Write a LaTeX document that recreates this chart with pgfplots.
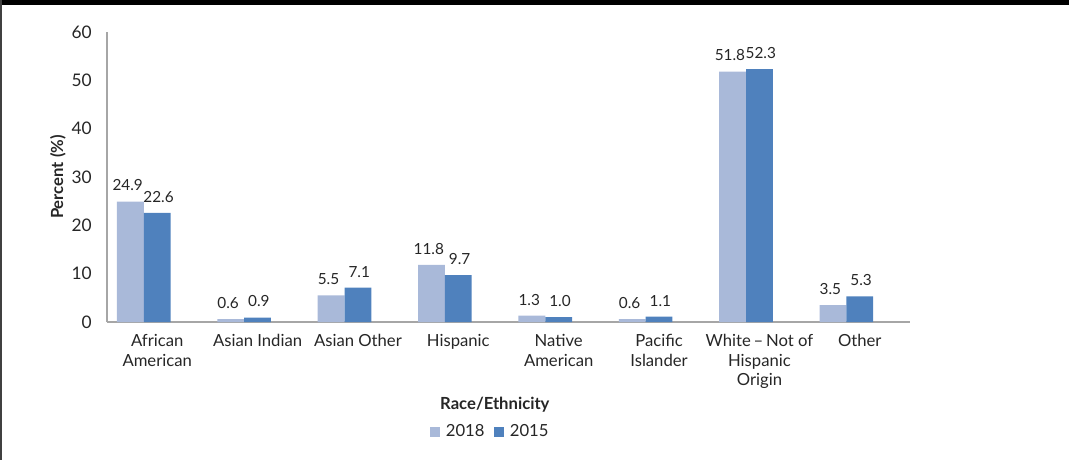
\documentclass[border=0pt]{standalone}
\usepackage{fontspec}
\setmainfont{Lato}
\usepackage{pgfplots}
\pgfplotsset{compat=1.18}
\definecolor{lightbar}{HTML}{A9B9D9}
\definecolor{darkbar}{HTML}{4F81BD}
\definecolor{axisgray}{HTML}{A6A6A6}
\definecolor{txt}{HTML}{262626}
\begin{document}
\begin{tikzpicture}
\useasboundingbox (0,0) rectangle (801.75pt,-345pt);
\fill[black] (0,0) rectangle (801.75pt,-3.5pt);
\draw[black!75, line width=1.4pt] (0.9pt,0) -- (0.9pt,-345pt);
\begin{axis}[
  at={(80.25pt,-241.5pt)}, anchor=south west,
  scale only axis, width=602.25pt, height=217.5pt,
  ybar, bar width=0.267,
  xmin=-0.5, xmax=7.5, ymin=0, ymax=60,
  ytick={0,10,...,60},
  xtick={0,...,7},
  xticklabels={African\\American, Asian Indian, Asian Other, Hispanic, Native\\American, Pacific\\Islander, White\,–\,Not of\\Hispanic\\Origin, Other},
  axis x line*=bottom, axis y line*=left,
  axis line style={axisgray, line width=1.2pt},
  major tick length=0pt,
  /pgf/number format/assume math mode=true,
  yticklabel style={font=\fontsize{13}{15}\selectfont, text=txt, xshift=-8pt},
  xticklabel style={font=\fontsize{12.5}{14.6}\selectfont, text=txt, align=center, yshift=-6pt},
  xlabel={Race/Ethnicity},
  xlabel style={at={(axis description cs:0.483,-0.3034)}, anchor=base, font=\bfseries\fontsize{12.5}{15}\selectfont, text=txt},
  ylabel={Percent (\%)},
  ylabel style={at={(axis description cs:-0.061,0.5)}, anchor=center, font=\bfseries\fontsize{12.5}{15}\selectfont, text=txt},
  nodes near coords,
  nodes near coords style={/pgf/number format/fixed, /pgf/number format/fixed zerofill, /pgf/number format/precision=1, font=\fontsize{11.5}{13}\selectfont, text=txt, anchor=base, yshift=8pt},
  legend columns=2,
  legend style={draw=none, at={(axis description cs:0.4776,-0.379)}, anchor=center, font=\fontsize{12.5}{15}\selectfont, text=txt, inner sep=0pt, /tikz/every even column/.append style={column sep=5pt}},
  legend cell align=left,
]
\addplot[fill=lightbar, draw=none, bar shift=-0.267,
  every node near coord/.append style={xshift=-2pt},
  legend image code/.code={\fill[lightbar] (0pt,-3.75pt) rectangle (7.5pt,3.75pt); \path (10pt,0pt);}]
  coordinates {(0,24.9) (1,0.6) (2,5.5) (3,11.8) (4,1.3) (5,0.6) (6,51.8) (7,3.5)};
\addlegendentry{2018}
\addplot[fill=darkbar, draw=none, bar shift=0,
  every node near coord/.append style={xshift=1pt},
  legend image code/.code={\fill[darkbar] (0pt,-3.75pt) rectangle (7.5pt,3.75pt); \path (10pt,0pt);}]
  coordinates {(0,22.6) (1,0.9) (2,7.1) (3,9.7) (4,1.0) (5,1.1) (6,52.3) (7,5.3)};
\addlegendentry{2015}
\end{axis}
\end{tikzpicture}
\end{document}
